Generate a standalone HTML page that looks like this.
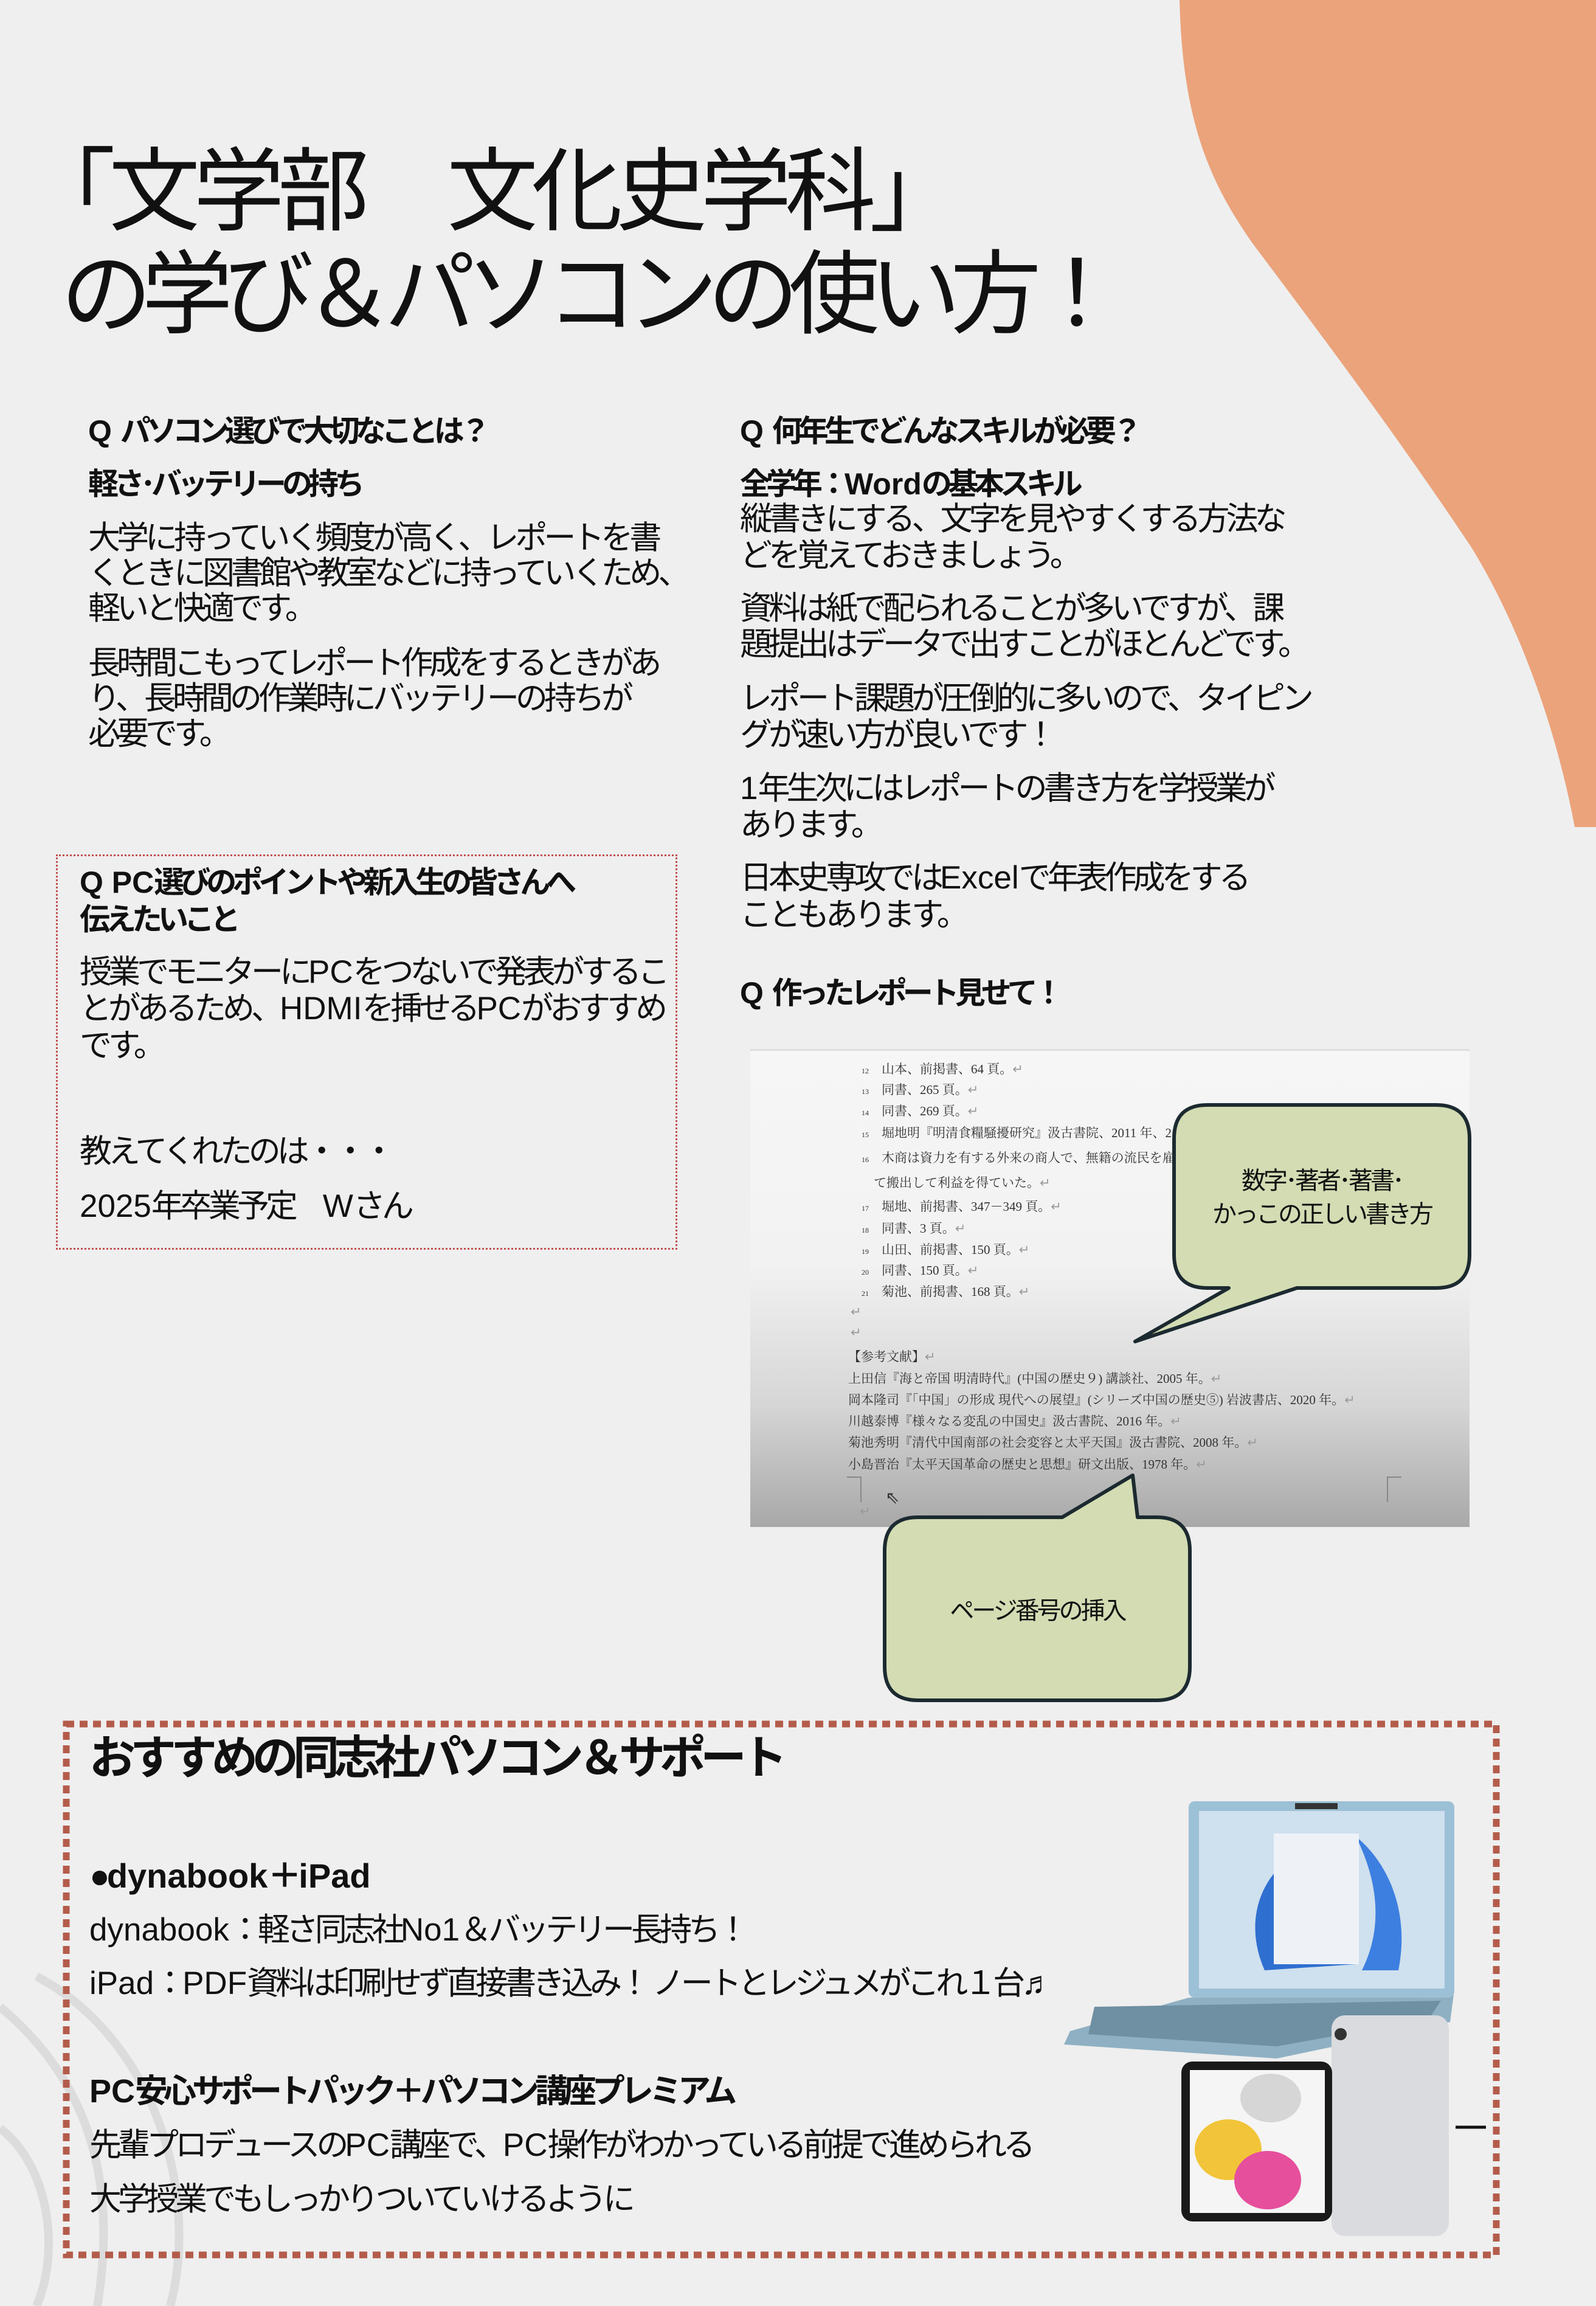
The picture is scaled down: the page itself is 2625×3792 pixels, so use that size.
<!DOCTYPE html>
<html><head><meta charset="utf-8"><style>
html,body{margin:0;padding:0}
body{width:2625px;height:3792px;background:#efefef;position:relative;overflow:hidden;font-family:"Liberation Sans","Noto Sans CJK JP",sans-serif;color:#111}
.t{position:absolute;white-space:nowrap}
.title{font-size:150px;line-height:150px;letter-spacing:-17px;left:100px}
.h{font-size:50px;line-height:50px;font-weight:bold;letter-spacing:-7px}
.b{font-size:53px;line-height:53px;letter-spacing:-6px}
.l{letter-spacing:0}
.ref{position:absolute;left:1234px;top:1725px;width:1183px;height:783px;background:linear-gradient(#f6f6f6 0%,#f2f2f2 45%,#d5d5d5 75%,#a8a8a8 100%);border-top:3px solid #ddd;overflow:hidden;font-family:"Liberation Serif","Noto Serif CJK SC",serif;font-size:21px;color:#333}
.ref div{position:absolute;white-space:nowrap}
.ref .n{font-size:12px}
.r{color:#999}
.c{font-size:40px;line-height:40px;letter-spacing:-4px;text-align:center}
</style></head><body>

<svg width="2625" height="3792" style="position:absolute;left:0;top:0">
<path d="M1940 0 C1945 200 1990 300 2060 400 C2180 560 2300 720 2420 900 C2500 1030 2560 1200 2590 1360 L2625 1360 L2625 0 Z" fill="#eba37b"/>
<g fill="none" stroke="#dcdcdc" stroke-width="14">
<path d="M0 3300 C120 3400 200 3550 160 3792"/>
<path d="M60 3250 C250 3350 330 3600 280 3792"/>
<path d="M0 3500 C80 3560 100 3700 60 3792"/>
</g>
</svg>

<div class="t title" style="top:240px;left:40px;letter-spacing:-11px">「文学部　文化史学科」</div>
<div class="t title" style="top:409px">の学び＆パソコンの使い方！</div>

<div class="t h" style="left:145px;top:684px"><span class="l">Q </span>パソコン選びで大切なことは？</div>
<div class="t h" style="left:145px;top:771px">軽さ･バッテリーの持ち</div>
<div class="t b" style="left:145px;top:858px">大学に持っていく頻度が高く、レポートを書</div>
<div class="t b" style="left:145px;top:916px">くときに図書館や教室などに持っていくため、</div>
<div class="t b" style="left:145px;top:974px">軽いと快適です。</div>
<div class="t b" style="left:145px;top:1064px">長時間こもってレポート作成をするときがあ</div>
<div class="t b" style="left:145px;top:1122px">り、長時間の作業時にバッテリーの持ちが</div>
<div class="t b" style="left:145px;top:1180px">必要です。</div>

<div class="t h" style="left:1217px;top:684px"><span class="l">Q </span>何年生でどんなスキルが必要？</div>
<div class="t h" style="left:1217px;top:771px">全学年：<span class="l">Word</span>の基本スキル</div>
<div class="t b" style="left:1217px;top:827px">縦書きにする、文字を見やすくする方法な</div>
<div class="t b" style="left:1217px;top:887px">どを覚えておきましょう。</div>
<div class="t b" style="left:1217px;top:974px">資料は紙で配られることが多いですが、課</div>
<div class="t b" style="left:1217px;top:1033px">題提出はデータで出すことがほとんどです。</div>
<div class="t b" style="left:1217px;top:1122px">レポート課題が圧倒的に多いので、タイピン</div>
<div class="t b" style="left:1217px;top:1182px">グが速い方が良いです！</div>
<div class="t b" style="left:1217px;top:1270px"><span class="l">1</span>年生次にはレポートの書き方を学授業が</div>
<div class="t b" style="left:1217px;top:1330px">あります。</div>
<div class="t b" style="left:1217px;top:1417px">日本史専攻では<span class="l">Excel</span>で年表作成をする</div>
<div class="t b" style="left:1217px;top:1478px">こともあります。</div>
<div class="t h" style="left:1217px;top:1608px"><span class="l">Q </span>作ったレポート見せて！</div>

<div style="position:absolute;left:92px;top:1405px;width:1016px;height:644px;border:3px dotted #c0504d"></div>
<div class="t h" style="left:131px;top:1426px"><span class="l">Q PC</span>選びのポイントや新入生の皆さんへ</div>
<div class="t h" style="left:131px;top:1487px">伝えたいこと</div>
<div class="t b" style="left:131px;top:1572px">授業でモニターに<span class="l">PC</span>をつないで発表がするこ</div>
<div class="t b" style="left:131px;top:1632px">とがあるため、<span class="l">HDMI</span>を挿せる<span class="l">PC</span>がおすすめ</div>
<div class="t b" style="left:131px;top:1693px">です。</div>
<div class="t b" style="left:131px;top:1867px">教えてくれたのは・・・</div>
<div class="t b" style="left:131px;top:1957px"><span class="l">2025</span>年卒業予定　<span class="l">W</span>さん</div>

<div class="ref">
<div style="left:183px;top:14px"><span class="n">12</span>　山本、前掲書、64 頁。<span class="r">↵</span></div>
<div style="left:183px;top:48px"><span class="n">13</span>　同書、265 頁。<span class="r">↵</span></div>
<div style="left:183px;top:83px"><span class="n">14</span>　同書、269 頁。<span class="r">↵</span></div>
<div style="left:183px;top:119px"><span class="n">15</span>　堀地明『明清食糧騒擾研究』汲古書院、2011 年、2</div>
<div style="left:183px;top:160px"><span class="n">16</span>　木商は資力を有する外来の商人で、無籍の流民を雇</div>
<div style="left:203px;top:201px">て搬出して利益を得ていた。<span class="r">↵</span></div>
<div style="left:183px;top:240px"><span class="n">17</span>　堀地、前掲書、347－349 頁。<span class="r">↵</span></div>
<div style="left:183px;top:276px"><span class="n">18</span>　同書、3 頁。<span class="r">↵</span></div>
<div style="left:183px;top:311px"><span class="n">19</span>　山田、前掲書、150 頁。<span class="r">↵</span></div>
<div style="left:183px;top:345px"><span class="n">20</span>　同書、150 頁。<span class="r">↵</span></div>
<div style="left:183px;top:380px"><span class="n">21</span>　菊池、前掲書、168 頁。<span class="r">↵</span></div>
<div class="r" style="left:165px;top:417px">↵</div>
<div class="r" style="left:165px;top:451px">↵</div>
<div style="left:161px;top:487px">【参考文献】<span class="r">↵</span></div>
<div style="left:161px;top:523px">上田信『海と帝国 明清時代』(中国の歴史９) 講談社、2005 年。<span class="r">↵</span></div>
<div style="left:161px;top:558px">岡本隆司『「中国」の形成 現代への展望』(シリーズ中国の歴史⑤) 岩波書店、2020 年。<span class="r">↵</span></div>
<div style="left:161px;top:593px">川越泰博『様々なる変乱の中国史』汲古書院、2016 年。<span class="r">↵</span></div>
<div style="left:161px;top:628px">菊池秀明『清代中国南部の社会変容と太平天国』汲古書院、2008 年。<span class="r">↵</span></div>
<div style="left:161px;top:664px">小島晋治『太平天国革命の歴史と思想』研文出版、1978 年。<span class="r">↵</span></div>
<div style="left:159px;top:700px;width:22px;height:40px;border-top:2px solid #888;border-right:2px solid #888"></div>
<div style="left:1047px;top:700px;width:22px;height:40px;border-top:2px solid #888;border-left:2px solid #888"></div>
<div style="left:222px;top:718px;font-size:28px;color:#333">⇖</div>
<div class="r" style="left:180px;top:745px">↵</div>
</div>

<svg width="2625" height="3792" style="position:absolute;left:0;top:0">
<path d="M1986 1817 H2362 Q2417 1817 2417 1872 V2063 Q2417 2118 2362 2118 H2133 L1867 2206 L2021 2118 H1986 Q1931 2118 1931 2063 V1872 Q1931 1817 1986 1817 Z" fill="#d3dcb3" stroke="#1c2a30" stroke-width="6" stroke-linejoin="round"/>
<path d="M1510 2495 H1747 L1863 2426 L1871 2495 H1902 Q1957 2495 1957 2550 V2741 Q1957 2796 1902 2796 H1510 Q1455 2796 1455 2741 V2550 Q1455 2495 1510 2495 Z" fill="#d3dcb3" stroke="#1c2a30" stroke-width="6" stroke-linejoin="round"/>
<rect x="109" y="2835" width="2352" height="873" fill="none" stroke="#b45c4b" stroke-width="11" stroke-dasharray="13 9"/>
<polygon points="1955,3285 2392,3272 2385,3325 2100,3385 1750,3362 1760,3340" fill="#8fb0c3"/>
<polygon points="1800,3300 2370,3290 2350,3320 2100,3365 1790,3345" fill="#6f8fa2"/>
<rect x="1955" y="2962" width="437" height="323" rx="10" fill="#9cc0d6"/>
<rect x="1972" y="2978" width="404" height="292" fill="#cfe0ee"/>
<path d="M2080 3240 C2040 3150 2080 3060 2170 3030 C2140 3100 2160 3180 2230 3230 Z" fill="#2f6fd0"/>
<path d="M2230 3020 C2280 3060 2320 3140 2300 3240 L2240 3240 C2280 3160 2260 3080 2230 3020 Z" fill="#3d7fe0"/>
<rect x="2095" y="3015" width="140" height="215" fill="#eef2f7"/>
<rect x="2130" y="2965" width="70" height="10" fill="#333"/>
<rect x="2190" y="3314" width="193" height="363" rx="22" fill="#d9dbde"/>
<circle cx="2205" cy="3345" r="10" fill="#333"/>
<rect x="1943" y="3390" width="248" height="263" rx="18" fill="#1a1a1a"/>
<rect x="1957" y="3404" width="222" height="235" fill="#f5f5f5"/>
<ellipse cx="2020" cy="3535" rx="55" ry="50" fill="#f2c43a"/>
<ellipse cx="2085" cy="3585" rx="55" ry="48" fill="#e64f9c"/>
<ellipse cx="2090" cy="3450" rx="50" ry="40" fill="#d6d6d6"/>
<line x1="2394" y1="3498" x2="2444" y2="3498" stroke="#111" stroke-width="5"/>
</svg>

<div class="t c" style="left:1931px;width:486px;top:1922px">数字･著者･著書･</div>
<div class="t c" style="left:1931px;width:486px;top:1977px">かっこの正しい書き方</div>
<div class="t c" style="left:1455px;width:502px;top:2629px">ページ番号の挿入</div>

<div class="t" style="left:147px;top:2854px;font-size:76px;line-height:76px;font-weight:bold;letter-spacing:-9px">おすすめの同志社パソコン＆サポート</div>
<div class="t h" style="left:147px;top:3057px;font-size:56px;line-height:56px;letter-spacing:-5px">●<span class="l">dynabook</span>＋<span class="l">iPad</span></div>
<div class="t b" style="left:147px;top:3147px"><span class="l">dynabook</span>：軽さ同志社<span class="l">No1</span>＆バッテリー長持ち！</div>
<div class="t b" style="left:147px;top:3235px"><span class="l">iPad</span>：<span class="l">PDF</span>資料は印刷せず直接書き込み！ ノートとレジュメがこれ１台♬</div>
<div class="t h" style="left:147px;top:3412px;font-size:54px;line-height:54px;letter-spacing:-7px"><span class="l">PC</span>安心サポートパック＋パソコン講座プレミアム</div>
<div class="t b" style="left:147px;top:3501px">先輩プロデュースの<span class="l">PC</span>講座で、<span class="l">PC</span>操作がわかっている前提で進められる</div>
<div class="t b" style="left:147px;top:3590px">大学授業でもしっかりついていけるように</div>

</body></html>
